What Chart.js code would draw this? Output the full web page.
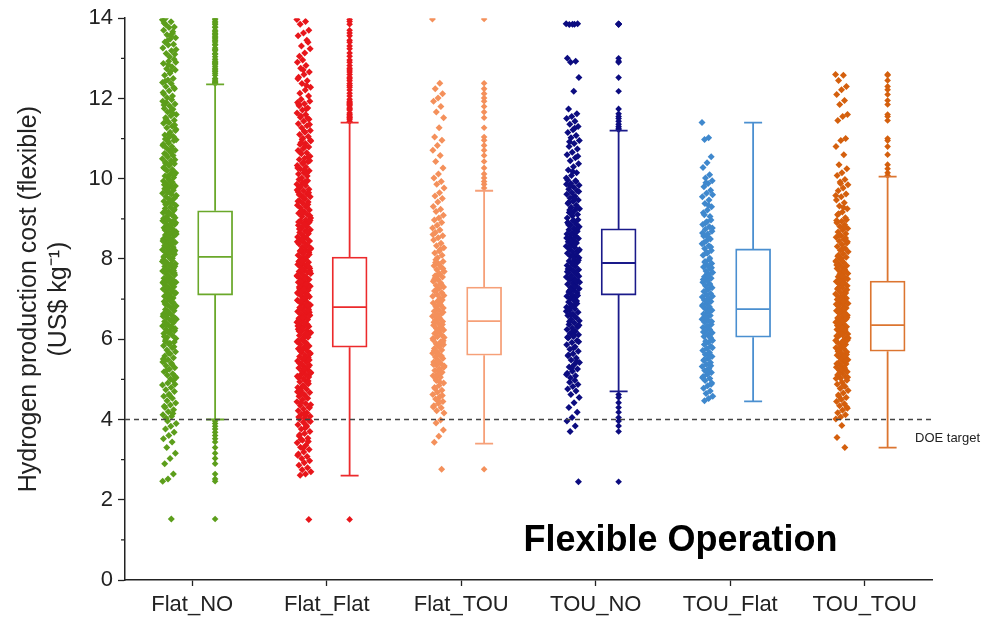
<!DOCTYPE html>
<html>
<head>
<meta charset="utf-8">
<script src="https://cdn.jsdelivr.net/npm/chart.js@4"></script>
<style>
  body { margin: 0; background: #fff; }
</style>
</head>
<body>
<canvas id="costChart" width="1000" height="627"></canvas>
<script>
var categories = ["Flat_NO", "Flat_Flat", "Flat_TOU", "TOU_NO", "TOU_Flat", "TOU_TOU"];

// box statistics
var q1 = [7.1, 5.8, 5.6, 7.1, 6.05, 5.7];
var medians = [8.05, 6.8, 6.45, 7.9, 6.75, 6.35];
var q3 = [9.2, 8.05, 7.3, 8.75, 8.25, 7.45];
var whiskerLow = [4.0, 2.6, 3.4, 4.7, 4.45, 3.3];
var whiskerHigh = [12.35, 11.4, 9.7, 11.2, 11.4, 10.05];

var doeTarget = 4;

// individual runs (scatter columns)
var flatNO = [13.96, 13.91, 13.84, 13.78, 13.77, 13.7, 13.62, 13.59, 13.51, 13.48, 13.41, 13.35, 13.33, 13.26, 13.19, 13.12, 13.1, 13.04, 13.88, 13.66, 13.44, 13.22, 13.55, 13.99,
  12.98, 12.93, 12.87, 12.79, 12.74, 12.71, 12.63, 12.58, 12.5, 12.46, 12.4, 12.37, 12.3, 12.24, 12.19, 12.11, 12.06, 12.02, 12.9, 12.67, 12.43, 12.27, 12.84, 12.15,
  11.97, 11.9, 11.86, 11.81, 11.75, 11.73, 11.66, 11.6, 11.57, 11.52, 11.46, 11.4, 11.38, 11.31, 11.27, 11.2, 11.16, 11.09, 11.05, 11.01, 11.93, 11.7, 11.49, 11.34, 11.12, 11.84, 11.63, 11.43, 11.23, 11.07,
  10.99, 10.95, 10.89, 10.86, 10.8, 10.76, 10.71, 10.69, 10.63, 10.58, 10.54, 10.5, 10.45, 10.41, 10.37, 10.32, 10.28, 10.23, 10.2, 10.14, 10.11, 10.07, 10.03, 10.92, 10.83, 10.74, 10.6, 10.47, 10.35, 10.26, 10.17, 10.05, 10.97, 10.66, 10.39, 10.09,
  9.98, 9.94, 9.9, 9.87, 9.82, 9.8, 9.75, 9.71, 9.68, 9.64, 9.61, 9.55, 9.52, 9.49, 9.44, 9.4, 9.38, 9.33, 9.29, 9.26, 9.21, 9.17, 9.15, 9.1, 9.06, 9.03, 9.96, 9.85, 9.77, 9.66, 9.58, 9.46, 9.36, 9.24, 9.13, 9.01, 9.92, 9.73, 9.57, 9.42, 9.19, 9.08,
  8.99, 8.95, 8.92, 8.88, 8.86, 8.81, 8.78, 8.74, 8.7, 8.68, 8.64, 8.6, 8.57, 8.53, 8.5, 8.47, 8.43, 8.41, 8.36, 8.33, 8.29, 8.26, 8.23, 8.19, 8.16, 8.12, 8.1, 8.05, 8.02, 8.97, 8.9, 8.83, 8.72, 8.66, 8.55, 8.45, 8.38, 8.31, 8.21, 8.14, 8.07, 8.93, 8.76, 8.62, 8.48, 8.34, 8.18, 8.04,
  7.98, 7.96, 7.91, 7.88, 7.84, 7.81, 7.77, 7.73, 7.7, 7.67, 7.63, 7.6, 7.56, 7.52, 7.49, 7.46, 7.42, 7.39, 7.35, 7.31, 7.28, 7.25, 7.21, 7.18, 7.14, 7.11, 7.07, 7.03, 7.01, 7.94, 7.86, 7.75, 7.65, 7.54, 7.44, 7.37, 7.27, 7.16, 7.05, 7.9, 7.71, 7.58, 7.41, 7.23, 7.09, 7.82,
  6.98, 6.94, 6.9, 6.86, 6.83, 6.79, 6.74, 6.71, 6.67, 6.63, 6.6, 6.55, 6.52, 6.48, 6.44, 6.41, 6.36, 6.33, 6.29, 6.25, 6.21, 6.17, 6.14, 6.09, 6.05, 6.02, 6.96, 6.88, 6.77, 6.65, 6.57, 6.46, 6.38, 6.27, 6.19, 6.07, 6.92, 6.69, 6.5, 6.31,
  5.98, 5.93, 5.88, 5.84, 5.79, 5.73, 5.69, 5.64, 5.58, 5.54, 5.49, 5.43, 5.4, 5.34, 5.29, 5.25, 5.19, 5.14, 5.1, 5.04, 5.01, 5.95, 5.81, 5.66, 5.51, 5.37, 5.22, 5.07, 5.9, 5.46,
  4.97, 4.91, 4.86, 4.8, 4.74, 4.7, 4.63, 4.58, 4.53, 4.47, 4.41, 4.36, 4.3, 4.24, 4.19, 4.12, 4.08, 4.03, 4.88, 4.6, 4.33, 4.15,
  3.96, 3.9, 3.83, 3.76, 3.68, 3.6, 3.52, 3.44, 3.3, 3.16, 3.03, 2.9, 2.64, 2.52, 2.46, 1.52];

var flatFlat = [13.97, 13.92, 13.85, 13.7, 13.63, 13.56, 13.45, 13.31, 13.24, 13.13, 13.05, 13.4,
  12.96, 12.9, 12.82, 12.75, 12.66, 12.6, 12.53, 12.44, 12.37, 12.28, 12.21, 12.13, 12.06, 12.71, 12.49, 12.32,
  11.98, 11.93, 11.87, 11.82, 11.76, 11.71, 11.64, 11.6, 11.53, 11.48, 11.43, 11.37, 11.32, 11.27, 11.2, 11.16, 11.1, 11.05, 11.01, 11.9, 11.74, 11.56, 11.35, 11.18, 11.85, 11.51,
  10.98, 10.94, 10.88, 10.85, 10.79, 10.75, 10.7, 10.65, 10.62, 10.56, 10.51, 10.48, 10.42, 10.38, 10.33, 10.29, 10.24, 10.2, 10.15, 10.12, 10.07, 10.02, 10.96, 10.81, 10.67, 10.54, 10.4, 10.27, 10.13, 10.9, 10.45, 10.22,
  9.98, 9.95, 9.9, 9.86, 9.83, 9.78, 9.74, 9.7, 9.67, 9.62, 9.58, 9.55, 9.5, 9.46, 9.42, 9.39, 9.34, 9.3, 9.27, 9.22, 9.18, 9.14, 9.11, 9.06, 9.02, 9.93, 9.8, 9.65, 9.53, 9.44, 9.32, 9.2, 9.08, 9.88, 9.6, 9.36, 9.12, 9.72,
  8.98, 8.95, 8.91, 8.88, 8.84, 8.8, 8.77, 8.73, 8.7, 8.66, 8.63, 8.59, 8.55, 8.52, 8.48, 8.45, 8.41, 8.38, 8.34, 8.3, 8.27, 8.23, 8.2, 8.16, 8.13, 8.09, 8.05, 8.02, 8.96, 8.86, 8.75, 8.64, 8.53, 8.43, 8.32, 8.21, 8.11, 8.01, 8.92, 8.68, 8.47, 8.25,
  7.99, 7.96, 7.92, 7.89, 7.86, 7.82, 7.79, 7.76, 7.72, 7.69, 7.66, 7.62, 7.59, 7.56, 7.52, 7.49, 7.46, 7.42, 7.39, 7.36, 7.32, 7.29, 7.26, 7.22, 7.19, 7.16, 7.12, 7.09, 7.06, 7.02, 7.94, 7.84, 7.74, 7.64, 7.54, 7.44, 7.34, 7.24, 7.14, 7.04, 7.9, 7.7, 7.5, 7.3, 7.1, 7.97, 7.57, 7.37, 7.17, 7.8,
  6.99, 6.95, 6.92, 6.89, 6.85, 6.82, 6.79, 6.75, 6.72, 6.69, 6.65, 6.62, 6.59, 6.55, 6.52, 6.49, 6.45, 6.42, 6.39, 6.35, 6.32, 6.29, 6.25, 6.22, 6.19, 6.15, 6.12, 6.09, 6.05, 6.02, 6.97, 6.87, 6.77, 6.67, 6.57, 6.47, 6.37, 6.27, 6.17, 6.07, 6.93, 6.73, 6.53, 6.33, 6.13, 6.96, 6.6, 6.4, 6.2, 6.84,
  5.98, 5.94, 5.9, 5.87, 5.83, 5.79, 5.76, 5.72, 5.68, 5.65, 5.61, 5.57, 5.54, 5.5, 5.46, 5.43, 5.39, 5.35, 5.32, 5.28, 5.24, 5.21, 5.17, 5.13, 5.1, 5.06, 5.02, 5.96, 5.85, 5.74, 5.63, 5.52, 5.41, 5.3, 5.19, 5.08, 5.92, 5.7, 5.48, 5.26, 5.04, 5.81, 5.37, 5.15,
  4.98, 4.94, 4.89, 4.85, 4.8, 4.76, 4.71, 4.67, 4.62, 4.58, 4.53, 4.49, 4.44, 4.4, 4.35, 4.31, 4.26, 4.22, 4.17, 4.13, 4.08, 4.04, 4.01, 4.96, 4.83, 4.69, 4.56, 4.42, 4.29, 4.15, 4.06, 4.91, 4.64, 4.37, 4.1, 4.74,
  3.98, 3.93, 3.87, 3.82, 3.76, 3.7, 3.65, 3.59, 3.53, 3.48, 3.42, 3.36, 3.31, 3.25, 3.19, 3.14, 3.08, 3.03, 3.95, 3.79, 3.62, 3.45, 3.28, 3.11, 3.85, 3.5,
  2.97, 2.92, 2.86, 2.8, 2.75, 2.7, 2.64, 2.61, 1.51];

var flatTOU = [13.98,
  12.38, 12.24, 12.12, 12.01, 11.93, 11.8, 11.66, 11.52,
  11.27, 11.04, 10.96, 10.83, 10.71, 10.58, 10.43, 10.27, 10.12, 10.02,
  9.93, 9.86, 9.77, 9.65, 9.57, 9.51, 9.42, 9.31, 9.24, 9.18, 9.09, 9.02,
  8.97, 8.91, 8.84, 8.77, 8.72, 8.66, 8.58, 8.53, 8.47, 8.39, 8.33, 8.28, 8.2, 8.15, 8.09, 8.03, 8.61, 8.24,
  7.98, 7.94, 7.88, 7.83, 7.79, 7.73, 7.69, 7.63, 7.58, 7.55, 7.49, 7.44, 7.4, 7.34, 7.3, 7.26, 7.2, 7.16, 7.11, 7.07, 7.02, 7.91, 7.76, 7.61, 7.47, 7.37, 7.23, 7.09, 7.85, 7.52,
  6.98, 6.95, 6.9, 6.86, 6.81, 6.78, 6.73, 6.7, 6.64, 6.61, 6.57, 6.52, 6.48, 6.44, 6.4, 6.35, 6.31, 6.27, 6.23, 6.18, 6.14, 6.1, 6.06, 6.02, 6.93, 6.83, 6.67, 6.54, 6.42, 6.29, 6.16, 6.04, 6.88, 6.59, 6.37, 6.21,
  5.98, 5.94, 5.89, 5.86, 5.81, 5.77, 5.73, 5.68, 5.65, 5.6, 5.56, 5.52, 5.47, 5.43, 5.39, 5.35, 5.3, 5.26, 5.22, 5.18, 5.13, 5.09, 5.05, 5.01, 5.96, 5.84, 5.71, 5.58, 5.45, 5.33, 5.2, 5.07, 5.91, 5.63, 5.37, 5.15,
  4.97, 4.91, 4.85, 4.8, 4.73, 4.68, 4.62, 4.57, 4.51, 4.45, 4.4, 4.34, 4.29, 4.22, 4.16, 4.94, 4.77, 4.6, 4.48, 4.31,
  3.99, 3.91, 3.74, 3.58, 3.43, 2.76];

var touNO = [13.86, 13.85, 13.84, 13.86, 13.85, 13.0, 12.93, 12.9, 12.52, 12.18,
  11.74, 11.62, 11.55, 11.5, 11.43,
  11.36, 11.3, 11.22, 11.15, 11.08, 11.02, 10.95, 10.88, 10.8, 10.74, 10.66, 10.6, 10.52, 10.45, 10.37, 10.3, 10.22, 10.15, 10.08, 10.02, 11.26, 10.92, 10.56, 10.18,
  9.97, 9.93, 9.88, 9.84, 9.79, 9.74, 9.7, 9.65, 9.61, 9.56, 9.52, 9.47, 9.43, 9.38, 9.34, 9.29, 9.25, 9.2, 9.16, 9.11, 9.07, 9.02, 9.95, 9.82, 9.68, 9.54, 9.41, 9.27, 9.13, 9.86, 9.5, 9.22,
  8.98, 8.95, 8.91, 8.87, 8.84, 8.8, 8.76, 8.73, 8.69, 8.65, 8.62, 8.58, 8.54, 8.51, 8.47, 8.43, 8.4, 8.36, 8.32, 8.29, 8.25, 8.21, 8.18, 8.14, 8.1, 8.07, 8.03, 8.96, 8.85, 8.74, 8.63, 8.52, 8.41, 8.3, 8.19, 8.08, 8.9, 8.67, 8.45, 8.23,
  7.99, 7.95, 7.92, 7.88, 7.84, 7.81, 7.77, 7.73, 7.7, 7.66, 7.62, 7.59, 7.55, 7.51, 7.48, 7.44, 7.4, 7.37, 7.33, 7.29, 7.26, 7.22, 7.18, 7.15, 7.11, 7.07, 7.04, 7.01, 7.97, 7.86, 7.75, 7.64, 7.53, 7.42, 7.31, 7.2, 7.09, 7.9, 7.68, 7.46, 7.24, 7.57,
  6.98, 6.93, 6.89, 6.85, 6.8, 6.76, 6.72, 6.67, 6.63, 6.59, 6.54, 6.5, 6.46, 6.41, 6.37, 6.33, 6.28, 6.24, 6.2, 6.15, 6.11, 6.07, 6.03, 6.95, 6.83, 6.7, 6.57, 6.44, 6.31, 6.18, 6.05, 6.87, 6.61, 6.35, 6.09, 6.74,
  5.97, 5.92, 5.86, 5.81, 5.75, 5.7, 5.64, 5.59, 5.53, 5.48, 5.42, 5.37, 5.31, 5.26, 5.2, 5.15, 5.09, 5.04, 5.94, 5.78, 5.61, 5.45, 5.28, 5.12,
  4.98, 4.93, 4.87, 4.82, 4.76, 4.71,
  4.62, 4.55, 4.42, 4.3, 4.18, 4.05, 3.96, 3.84, 3.7, 2.45];

var touFlat = [11.4, 11.02, 10.98, 10.55, 10.4, 10.28, 10.1, 10.02,
  9.95, 9.88, 9.8, 9.71, 9.64, 9.55, 9.47, 9.38, 9.3, 9.22, 9.15, 9.06, 9.9, 9.6, 9.34, 9.1,
  8.97, 8.93, 8.86, 8.8, 8.74, 8.69, 8.62, 8.57, 8.5, 8.45, 8.38, 8.33, 8.26, 8.21, 8.14, 8.09, 8.02, 8.9, 8.77, 8.54, 8.41, 8.3, 8.17, 8.65,
  7.98, 7.94, 7.89, 7.84, 7.8, 7.75, 7.7, 7.66, 7.61, 7.56, 7.52, 7.47, 7.42, 7.38, 7.33, 7.28, 7.24, 7.19, 7.14, 7.1, 7.05, 7.01, 7.92, 7.78, 7.63, 7.49, 7.35, 7.21, 7.07, 7.58,
  6.98, 6.94, 6.89, 6.85, 6.81, 6.76, 6.72, 6.68, 6.63, 6.59, 6.55, 6.5, 6.46, 6.42, 6.37, 6.33, 6.29, 6.24, 6.2, 6.16, 6.11, 6.07, 6.03, 6.96, 6.83, 6.7, 6.57, 6.44, 6.31, 6.18, 6.05, 6.52,
  5.97, 5.92, 5.87, 5.82, 5.77, 5.72, 5.67, 5.62, 5.57, 5.52, 5.47, 5.42, 5.37, 5.32, 5.27, 5.22, 5.17, 5.12, 5.07, 5.02, 5.95, 5.79, 5.64, 5.49, 5.34, 5.19, 5.04, 5.55,
  4.97, 4.91, 4.84, 4.78, 4.71, 4.65, 4.58, 4.52, 4.47, 4.88];

var touTOU = [12.6, 12.58, 12.45, 12.3, 12.22, 12.1, 11.95, 11.85, 11.6, 11.55, 11.45,
  11.0, 10.95, 10.8, 10.6, 10.35, 10.25,
  10.15, 10.08, 9.98, 9.92, 9.85, 9.77, 9.7, 9.62, 9.55, 9.47, 9.4, 9.32, 9.25, 9.17, 9.1, 9.03, 9.88, 9.58, 9.28, 9.13,
  8.98, 8.94, 8.9, 8.85, 8.81, 8.76, 8.72, 8.67, 8.63, 8.58, 8.54, 8.49, 8.45, 8.4, 8.36, 8.31, 8.27, 8.22, 8.18, 8.13, 8.09, 8.04, 8.01, 8.96, 8.79, 8.61, 8.43, 8.25, 8.07, 8.52,
  7.99, 7.95, 7.91, 7.87, 7.83, 7.8, 7.76, 7.72, 7.68, 7.64, 7.6, 7.56, 7.52, 7.48, 7.44, 7.41, 7.37, 7.33, 7.29, 7.25, 7.21, 7.17, 7.13, 7.09, 7.05, 7.02, 7.97, 7.85, 7.74, 7.62, 7.5, 7.39, 7.27, 7.15, 7.03, 7.93, 7.7, 7.46, 7.23, 7.58,
  6.99, 6.96, 6.92, 6.89, 6.85, 6.82, 6.78, 6.74, 6.71, 6.67, 6.64, 6.6, 6.56, 6.53, 6.49, 6.46, 6.42, 6.38, 6.35, 6.31, 6.28, 6.24, 6.2, 6.17, 6.13, 6.1, 6.06, 6.02, 6.97, 6.87, 6.76, 6.66, 6.55, 6.45, 6.34, 6.23, 6.13, 6.03, 6.94, 6.73, 6.51, 6.3, 6.08, 6.62, 6.4,
  5.98, 5.95, 5.91, 5.87, 5.83, 5.79, 5.76, 5.72, 5.68, 5.64, 5.6, 5.57, 5.53, 5.49, 5.45, 5.41, 5.38, 5.34, 5.3, 5.26, 5.22, 5.19, 5.15, 5.11, 5.07, 5.03, 5.97, 5.85, 5.74, 5.62, 5.51, 5.39, 5.28, 5.16, 5.05, 5.92, 5.7, 5.47, 5.25, 5.02, 5.58, 5.13,
  4.98, 4.93, 4.88, 4.82, 4.77, 4.72, 4.66, 4.61, 4.55, 4.5, 4.45, 4.39, 4.34, 4.28, 4.23, 4.17, 4.12, 4.06, 4.01, 4.85, 4.58, 4.31,
  3.85, 3.55, 3.3];

var groupValues = [flatNO, flatFlat, flatTOU, touNO, touFlat, touTOU];

// styling
var pointColors = ["#5c9e1b", "#e8161b", "#f4905b", "#0c0c80", "#3f88cd", "#d45f0d"];
var boxColors = ["#6aa82a", "#ec2a2c", "#f6a078", "#1a1a8a", "#4a8fd0", "#dc7530"];
var jitterHalf = [0.052, 0.052, 0.044, 0.05, 0.04, 0.047];
var scatterOffset = -0.17;
var boxOffset = 0.17;
var boxWidth = 35;
var capWidth = 18;
var fontFamily = "'Liberation Sans', Arial, sans-serif";

function jitter(k, w) {
    var f = (k * 0.618034) % 1;
    return (f - 0.5) * 2 * w;
}

var datasets = [];

groupValues.forEach(function (vals, i) {
    datasets.push({
        label: categories[i],
        data: vals.map(function (v, k) {
            return { x: i + scatterOffset + jitter(k, jitterHalf[i]), y: v };
        }),
        pointStyle: "rectRot",
        pointRadius: 3.5,
        pointBackgroundColor: pointColors[i],
        pointBorderWidth: 0
    });

    // values beyond the whiskers sit on the box column
    var outliers = vals.filter(function (v) {
        return v > whiskerHigh[i] || v < whiskerLow[i];
    });
    datasets.push({
        label: categories[i] + " outliers",
        data: outliers.map(function (v) {
            return { x: i + boxOffset, y: v };
        }),
        pointStyle: "rectRot",
        pointRadius: 3.3,
        pointBackgroundColor: pointColors[i],
        pointBorderWidth: 0
    });
});

datasets.push({
    type: "bar",
    label: "boxes",
    data: categories.map(function (c, i) {
        return { x: i + boxOffset, y: [q1[i], q3[i]] };
    }),
    backgroundColor: "#ffffff",
    borderColor: boxColors,
    borderWidth: 1.8,
    borderSkipped: false,
    barThickness: boxWidth
});

var boxParts = {
    id: "boxParts",
    afterDatasetsDraw: function (chart) {
        var ctx = chart.ctx;
        var a = chart.chartArea;
        var x = chart.scales.x;
        var y = chart.scales.y;
        ctx.save();

        categories.forEach(function (c, i) {
            var cx = x.getPixelForValue(i + boxOffset);
            var yHi = y.getPixelForValue(whiskerHigh[i]);
            var yLo = y.getPixelForValue(whiskerLow[i]);
            var yQ1 = y.getPixelForValue(q1[i]);
            var yQ3 = y.getPixelForValue(q3[i]);
            var yMed = y.getPixelForValue(medians[i]);
            ctx.strokeStyle = boxColors[i];
            ctx.lineWidth = 1.8;
            ctx.beginPath();
            ctx.moveTo(cx, yHi);
            ctx.lineTo(cx, yQ3);
            ctx.moveTo(cx, yQ1);
            ctx.lineTo(cx, yLo);
            ctx.moveTo(cx - capWidth / 2, yHi);
            ctx.lineTo(cx + capWidth / 2, yHi);
            ctx.moveTo(cx - capWidth / 2, yLo);
            ctx.lineTo(cx + capWidth / 2, yLo);
            ctx.moveTo(cx - boxWidth / 2 + 1, yMed);
            ctx.lineTo(cx + boxWidth / 2 - 1, yMed);
            ctx.stroke();
        });

        // DOE target line
        var yT = y.getPixelForValue(doeTarget);
        ctx.strokeStyle = "#444";
        ctx.lineWidth = 1.3;
        ctx.setLineDash([5, 4]);
        ctx.beginPath();
        ctx.moveTo(a.left, yT);
        ctx.lineTo(a.right, yT);
        ctx.stroke();
        ctx.setLineDash([]);

        ctx.fillStyle = "#222";
        ctx.font = "13px " + fontFamily;
        ctx.textAlign = "left";
        ctx.textBaseline = "middle";
        ctx.fillText("DOE target", a.right - 17, yT + 19);

        ctx.fillStyle = "#000";
        ctx.font = "bold 36px " + fontFamily;
        ctx.textAlign = "center";
        ctx.fillText("Flexible Operation", x.getPixelForValue(3.63), y.getPixelForValue(0.97));

        // minor ticks on the y axis
        ctx.strokeStyle = "#222";
        ctx.lineWidth = 1.3;
        ctx.beginPath();
        for (var v = 1; v < 14; v += 2) {
            var py = y.getPixelForValue(v);
            ctx.moveTo(a.left - 4, py);
            ctx.lineTo(a.left, py);
        }
        ctx.stroke();
        ctx.restore();
    }
};

var ctx = document.getElementById("costChart").getContext("2d");

var costChart = new Chart(ctx, {
    type: "scatter",
    data: { datasets: datasets },
    options: {
        responsive: false,
        animation: false,
        events: [],
        layout: { padding: { left: 0, right: 68, top: 17, bottom: 0 } },
        plugins: {
            legend: { display: false },
            tooltip: { enabled: false }
        },
        scales: {
            x: {
                type: "linear",
                min: -0.5,
                max: 5.5,
                offset: false,
                afterBuildTicks: function (scale) {
                    scale.ticks = categories.map(function (c, i) { return { value: i }; });
                },
                afterFit: function (scale) { scale.height = 47; },
                ticks: {
                    autoSkip: false,
                    maxRotation: 0,
                    padding: 6,
                    color: "#222",
                    font: { family: fontFamily, size: 22 },
                    callback: function (v) { return categories[v]; }
                },
                grid: { offset: false, drawOnChartArea: false, tickLength: 6, tickColor: "#222", tickWidth: 1.3 },
                border: { color: "#222", width: 1.5 }
            },
            y: {
                min: 0,
                max: 14,
                afterFit: function (scale) { scale.width = 125; },
                ticks: {
                    stepSize: 2,
                    padding: 5,
                    color: "#222",
                    font: { family: fontFamily, size: 22 }
                },
                grid: { drawOnChartArea: false, tickLength: 7, tickColor: "#222", tickWidth: 1.3 },
                border: { color: "#222", width: 1.5 },
                title: {
                    display: true,
                    text: ["Hydrogen production cost (flexible)", "(US$ kg\u207B\u00B9)"],
                    color: "#222",
                    font: { family: fontFamily, size: 25, lineHeight: 1.2 },
                    padding: { top: 14, bottom: 0 }
                }
            }
        }
    },
    plugins: [boxParts]
});
</script>
</body>
</html>
